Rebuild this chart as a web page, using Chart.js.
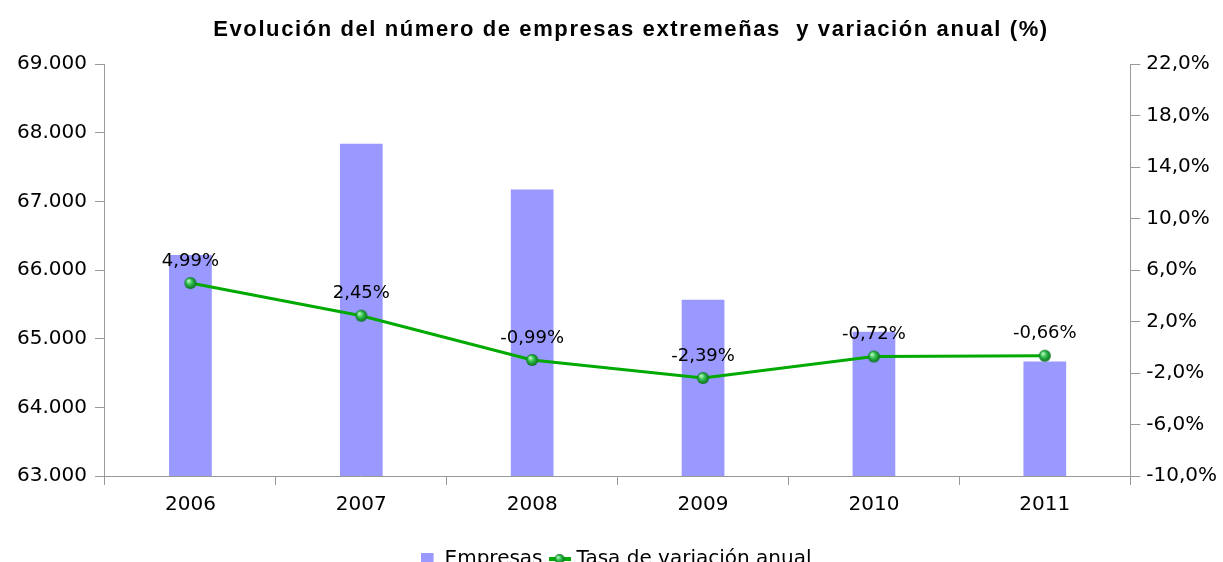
<!DOCTYPE html>
<html lang="es">
<head>
    <meta charset="UTF-8">
    <title>Evolución del número de empresas extremeñas</title>
    <script src="https://cdn.jsdelivr.net/npm/chart.js"></script>
    <style>
        html, body { margin: 0; padding: 0; overflow: hidden; background: #fff; }
        #wrap { width: 1223px; height: 600px; }
    </style>
</head>
<body>
    <div id="wrap"><canvas id="myChart"></canvas></div>

    <script>
        // datos
        const years = ['2006', '2007', '2008', '2009', '2010', '2011'];
        const empresas = [66217, 67840, 67174, 65565, 65100, 64667];
        const tasa = [4.99, 2.45, -0.99, -2.39, -0.72, -0.66];
        const titleText = 'Evolución del número de empresas extremeñas  y variación anual (%)';

        const tickFont = { family: 'DejaVu Sans', size: 20 };

        // bola verde para los puntos
        function sphere(r) {
            const c = document.createElement('canvas');
            c.width = r * 2 + 2; c.height = r * 2 + 2;
            const g = c.getContext('2d');
            const cx = r + 1, cy = r + 1;
            const grd = g.createRadialGradient(cx - r * 0.35, cy - r * 0.4, r * 0.1, cx, cy, r);
            grd.addColorStop(0, '#b8f5c0');
            grd.addColorStop(0.45, '#2fbf4c');
            grd.addColorStop(1, '#0a6e1e');
            g.fillStyle = grd;
            g.beginPath(); g.arc(cx, cy, r, 0, Math.PI * 2); g.fill();
            return c;
        }

        // iconos de la leyenda
        function legendIcon(type) {
            const c = document.createElement('canvas');
            const g = c.getContext('2d');
            if (type === 'bar') {
                c.width = 14; c.height = 14;
                g.fillStyle = '#9999ff';
                g.fillRect(0, 1, 13, 13);
            } else {
                c.width = 22; c.height = 14;
                g.fillStyle = '#00aa00';
                g.fillRect(0, 5, 22, 4);
                g.drawImage(sphere(5), 5, 1);
            }
            return c;
        }

        // título con espaciado entre letras
        const titlePlugin = {
            id: 'bigTitle',
            afterDraw(chart) {
                const ctx = chart.ctx;
                ctx.save();
                ctx.font = 'bold 22px "Liberation Sans"';
                ctx.letterSpacing = '1.6px';
                ctx.fillStyle = '#000';
                ctx.textAlign = 'center';
                ctx.textBaseline = 'middle';
                ctx.fillText(titleText, 631, 30);
                ctx.restore();
            }
        };

        // etiquetas de porcentaje sobre cada punto
        const labelPlugin = {
            id: 'labels',
            afterDatasetsDraw(chart) {
                const ctx = chart.ctx;
                const meta = chart.getDatasetMeta(0);
                ctx.save();
                ctx.font = '18px "DejaVu Sans"';
                ctx.fillStyle = '#000';
                ctx.textAlign = 'center';
                ctx.textBaseline = 'middle';
                meta.data.forEach((pt, i) => {
                    ctx.fillText(tasa[i].toFixed(2).replace('.', ',') + '%', pt.x, pt.y - 22);
                });
                ctx.restore();
            }
        };

        const ctx = document.getElementById('myChart').getContext('2d');
        const myChart = new Chart(ctx, {
            data: {
                labels: years,
                datasets: [{
                    type: 'line',
                    label: 'Tasa de variación anual',
                    data: tasa,
                    yAxisID: 'y2',
                    borderColor: '#00aa00',
                    borderWidth: 3,
                    pointStyle: sphere(6),
                    pointRadius: 6,
                    tension: 0,
                    order: 0
                }, {
                    type: 'bar',
                    label: 'Empresas',
                    data: empresas,
                    yAxisID: 'y',
                    backgroundColor: '#9999ff',
                    categoryPercentage: 1,
                    barPercentage: 0.25,
                    order: 1
                }]
            },
            options: {
                responsive: true,
                maintainAspectRatio: false,
                animation: false,
                layout: { padding: { left: 9, right: 0, top: 64, bottom: 21 } },
                plugins: {
                    title: { display: false },
                    legend: {
                        position: 'bottom',
                        reverse: true,
                        // título vacío solo para bajar la leyenda
                        title: { display: true, text: '', font: { size: 10 }, padding: { top: 0, bottom: 2 } },
                        labels: {
                            font: { family: 'DejaVu Sans', size: 20 },
                            color: '#000',
                            usePointStyle: true,
                            pointStyleWidth: 14,
                            padding: 10,
                            generateLabels(chart) {
                                return chart.data.datasets.map((ds, i) => ({
                                    text: ds.label,
                                    datasetIndex: i,
                                    pointStyle: legendIcon(ds.type),
                                    fillStyle: 'transparent',
                                    strokeStyle: 'transparent',
                                    fontColor: '#000',
                                    lineWidth: 0,
                                    hidden: false
                                }));
                            }
                        }
                    },
                    tooltip: { enabled: false }
                },
                scales: {
                    x: {
                        grid: { drawOnChartArea: false, tickLength: 9, color: '#999', offset: true },
                        border: { color: '#999' },
                        ticks: { font: tickFont, color: '#000', padding: 8 }
                    },
                    y: {
                        position: 'left',
                        min: 63000,
                        max: 69000,
                        grid: { drawOnChartArea: false, tickLength: 10, color: '#999' },
                        border: { color: '#999' },
                        ticks: {
                            stepSize: 1000,
                            font: tickFont,
                            color: '#000',
                            padding: 8,
                            callback: v => v.toLocaleString('de-DE')
                        }
                    },
                    y2: {
                        position: 'right',
                        min: -10,
                        max: 22,
                        grid: { drawOnChartArea: false, tickLength: 10, color: '#999' },
                        border: { color: '#999' },
                        ticks: {
                            stepSize: 4,
                            font: tickFont,
                            color: '#000',
                            padding: 6,
                            callback: v => v.toFixed(1).replace('.', ',') + '%'
                        }
                    }
                }
            },
            plugins: [labelPlugin, titlePlugin]
        });
    </script>
</body>
</html>
